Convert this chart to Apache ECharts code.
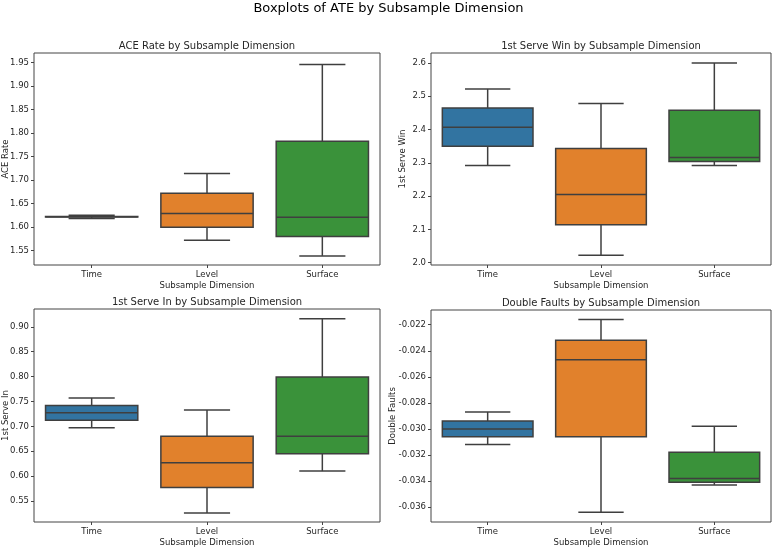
<!DOCTYPE html>
<html>
<head>
<meta charset="utf-8">
<script src="https://cdn.jsdelivr.net/npm/echarts@6/dist/echarts.min.js"></script>
<style>
  html, body { margin: 0; padding: 0; background: #fff; }
  #grafico { width: 777px; height: 547px; }
</style>
</head>
<body>
<div id="grafico"></div>
<script>
// categorias e cores
var categorias = ['Time', 'Level', 'Surface'];
var cores = ['#3274a1', '#e1812c', '#3a923a'];

// [min whisker, Q1, mediana, Q3, max whisker] por categoria
var aceRate = [
    [1.6185, 1.6215, 1.622, 1.6225, 1.6255],
    [1.572, 1.600, 1.629, 1.672, 1.714],
    [1.539, 1.580, 1.621, 1.783, 1.946]
];
var serveWin = [
    [2.292, 2.350, 2.407, 2.465, 2.522],
    [2.022, 2.114, 2.205, 2.343, 2.478],
    [2.292, 2.304, 2.316, 2.458, 2.600]
];
var serveIn = [
    [0.697, 0.712, 0.727, 0.742, 0.757],
    [0.526, 0.577, 0.627, 0.680, 0.733],
    [0.610, 0.645, 0.680, 0.799, 0.916]
];
var doubleFaults = [
    [-0.0312, -0.0306, -0.0300, -0.0294, -0.0287],
    [-0.0364, -0.0306, -0.0247, -0.0232, -0.0216],
    [-0.0343, -0.0341, -0.0338, -0.0318, -0.0298]
];

// ticks do eixo y
var ticksAce = [1.55, 1.60, 1.65, 1.70, 1.75, 1.80, 1.85, 1.90, 1.95];
var ticksWin = [2.0, 2.1, 2.2, 2.3, 2.4, 2.5, 2.6];
var ticksIn = [0.55, 0.60, 0.65, 0.70, 0.75, 0.80, 0.85, 0.90];
var ticksDf = [-0.036, -0.034, -0.032, -0.030, -0.028, -0.026, -0.024, -0.022];

var paineis = [
    { titulo: 'ACE Rate by Subsample Dimension', nomeY: 'ACE Rate', dados: aceRate, ticks: ticksAce, casas: 2,
      min: 1.5196, max: 1.9704, grid: { left: 34, top: 53, width: 346, height: 212 }, gapY: 24 },
    { titulo: '1st Serve Win by Subsample Dimension', nomeY: '1st Serve Win', dados: serveWin, ticks: ticksWin, casas: 1,
      min: 1.993, max: 2.630, grid: { left: 431, top: 53, width: 340, height: 212 }, gapY: 24 },
    { titulo: '1st Serve In by Subsample Dimension', nomeY: '1st Serve In', dados: serveIn, ticks: ticksIn, casas: 2,
      min: 0.5077, max: 0.9357, grid: { left: 34, top: 309, width: 346, height: 213 }, gapY: 24 },
    { titulo: 'Double Faults by Subsample Dimension', nomeY: 'Double Faults', dados: doubleFaults, ticks: ticksDf, casas: 3,
      min: -0.03715, max: -0.02087, grid: { left: 431, top: 310, width: 340, height: 212 }, gapY: 34 }
];

var fonte = 'DejaVu Sans';
var corTexto = '#262626';
var corLinha = '#3f3f3f';

function desenhaBox(params, api) {
    var i = api.value(0);
    var low = api.coord([i, api.value(1)]);
    var q1 = api.coord([i, api.value(2)]);
    var med = api.coord([i, api.value(3)]);
    var q3 = api.coord([i, api.value(4)]);
    var high = api.coord([i, api.value(5)]);
    var largura = api.size([1, 0])[0] * 0.8;
    var x = med[0];
    var estilo = { stroke: corLinha, lineWidth: 1.5 };
    return {
        type: 'group',
        children: [
            { type: 'line', shape: { x1: x, y1: q1[1], x2: x, y2: low[1] }, style: estilo },
            { type: 'line', shape: { x1: x, y1: q3[1], x2: x, y2: high[1] }, style: estilo },
            { type: 'line', shape: { x1: x - largura / 4, y1: low[1], x2: x + largura / 4, y2: low[1] }, style: estilo },
            { type: 'line', shape: { x1: x - largura / 4, y1: high[1], x2: x + largura / 4, y2: high[1] }, style: estilo },
            { type: 'rect', shape: { x: x - largura / 2, y: q3[1], width: largura, height: q1[1] - q3[1] },
              style: { fill: cores[i], stroke: corLinha, lineWidth: 1.5 } },
            { type: 'line', shape: { x1: x - largura / 2, y1: med[1], x2: x + largura / 2, y2: med[1] }, style: estilo }
        ]
    };
}

var myChart = echarts.init(document.getElementById('grafico'));

var titulos = [{
    text: 'Boxplots of ATE by Subsample Dimension',
    left: 'center', top: 2, padding: 0,
    textStyle: { fontFamily: fonte, fontSize: 13, fontWeight: 'normal', color: '#000' }
}];
var grids = [], eixosX = [], eixosY = [], series = [];

paineis.forEach(function (p, k) {
    titulos.push({
        text: p.titulo,
        left: p.grid.left + p.grid.width / 2, top: p.grid.top - 12, padding: 0,
        textAlign: 'center',
        textStyle: { fontFamily: fonte, fontSize: 10, fontWeight: 'normal', color: corTexto }
    });
    grids.push({
        left: p.grid.left, top: p.grid.top, width: p.grid.width, height: p.grid.height,
        outerBoundsMode: 'none', containLabel: false,
        show: true, borderColor: '#444', borderWidth: 1, backgroundColor: '#fff'
    });
    eixosX.push({
        type: 'category', gridIndex: k, data: categorias,
        name: 'Subsample Dimension', nameLocation: 'middle', nameGap: 16, nameMoveOverlap: false,
        nameTextStyle: { fontFamily: fonte, fontSize: 8.5, color: corTexto },
        axisLine: { show: false },
        axisTick: { show: true, alignWithLabel: true, length: 3, lineStyle: { color: '#444' } },
        axisLabel: { fontFamily: fonte, fontSize: 8.5, color: corTexto, margin: 5 },
        splitLine: { show: false }
    });
    eixosY.push({
        type: 'value', gridIndex: k, min: p.min, max: p.max,
        name: p.nomeY, nameLocation: 'middle', nameGap: p.gapY, nameMoveOverlap: false,
        nameTextStyle: { fontFamily: fonte, fontSize: 8.5, color: corTexto },
        axisLine: { show: false },
        axisTick: { show: true, length: 3, customValues: p.ticks, lineStyle: { color: '#444' } },
        axisLabel: {
            fontFamily: fonte, fontSize: 8.5, color: corTexto, margin: 5,
            customValues: p.ticks,
            formatter: (function (c) { return function (v) { return v.toFixed(c); }; })(p.casas)
        },
        splitLine: { show: false }
    });
    var dadosSerie = p.dados.map(function (d, i) { return [i].concat(d); });
    series.push({
        type: 'custom', xAxisIndex: k, yAxisIndex: k,
        renderItem: desenhaBox,
        encode: { x: 0, y: [1, 2, 3, 4, 5] },
        data: dadosSerie,
        silent: true
    });
});

var option = {
    backgroundColor: '#fff',
    animation: false,
    title: titulos,
    grid: grids,
    xAxis: eixosX,
    yAxis: eixosY,
    series: series
};

myChart.setOption(option);
</script>
</body>
</html>
